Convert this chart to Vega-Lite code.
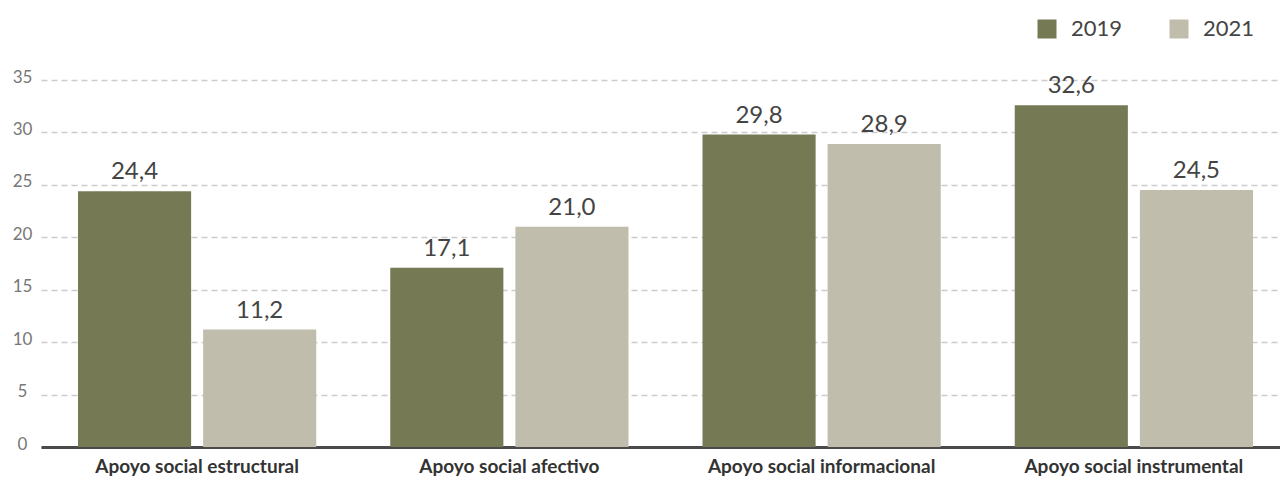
{
  "$schema": "https://vega.github.io/schema/vega-lite/v6.json",
  "width": 1239,
  "height": 367,
  "autosize": {"type": "none"},
  "padding": {"left": 41, "top": 80, "right": 0, "bottom": 31},
  "background": "white",
  "data": {
    "values": [
      {"apoyo": "Apoyo social estructural", "anio": "2019", "valor": 24.4},
      {"apoyo": "Apoyo social estructural", "anio": "2021", "valor": 11.2},
      {"apoyo": "Apoyo social afectivo", "anio": "2019", "valor": 17.1},
      {"apoyo": "Apoyo social afectivo", "anio": "2021", "valor": 21.0},
      {"apoyo": "Apoyo social informacional", "anio": "2019", "valor": 29.8},
      {"apoyo": "Apoyo social informacional", "anio": "2021", "valor": 28.9},
      {"apoyo": "Apoyo social instrumental", "anio": "2019", "valor": 32.6},
      {"apoyo": "Apoyo social instrumental", "anio": "2021", "valor": 24.5}
    ]
  },
  "encoding": {
    "x": {
      "field": "apoyo", "type": "nominal", "sort": null, "title": null,
      "scale": {"range": [0, 1249], "paddingInner": 0.237, "paddingOuter": 0.1185},
      "axis": {
        "labelAngle": 0, "labelFont": "Lato", "labelFontWeight": "bold", "labelFontSize": 19,
        "labelColor": "#333333", "labelPadding": 10, "labelLimit": 0, "ticks": false,
        "domainColor": "#4a4a4a", "domainWidth": 3, "grid": false
      }
    },
    "xOffset": {
      "field": "anio", "type": "nominal",
      "scale": {"paddingInner": 0.096, "paddingOuter": 0}
    },
    "y": {
      "field": "valor", "type": "quantitative", "title": null,
      "scale": {"domain": [0, 35], "nice": false},
      "axis": {
        "values": [0, 5, 10, 15, 20, 25, 30, 35], "domain": false, "ticks": false, "tickSize": 0,
        "labelFont": "Lato", "labelFontSize": 17, "labelColor": "#777777",
        "labelAlign": "center", "labelPadding": 19, "labelOffset": -3,
        "gridColor": "#cccccc", "gridDash": [6, 4], "gridWidth": 1.5
      }
    }
  },
  "layer": [
    {
      "mark": {"type": "bar"},
      "encoding": {
        "color": {
          "field": "anio", "type": "nominal", "title": null,
          "scale": {"domain": ["2019", "2021"], "range": ["#757a55", "#c0bdac"]},
          "legend": {
            "orient": "none", "legendX": 995, "legendY": -62, "direction": "horizontal",
            "symbolType": "square", "symbolSize": 361, "symbolStrokeWidth": 0,
            "labelFont": "Lato", "labelFontSize": 22, "labelColor": "#444444",
            "labelOffset": 13, "columnPadding": 45
          }
        }
      }
    },
    {
      "mark": {"type": "text", "font": "Lato", "fontSize": 24, "color": "#444444", "baseline": "alphabetic", "dy": -12},
      "encoding": {
        "text": {"field": "valor", "type": "quantitative", "format": ".1f"}
      }
    }
  ],
  "config": {
    "view": {"stroke": null},
    "locale": {"number": {"decimal": ",", "thousands": ".", "grouping": [3], "currency": ["", " €"]}}
  }
}
